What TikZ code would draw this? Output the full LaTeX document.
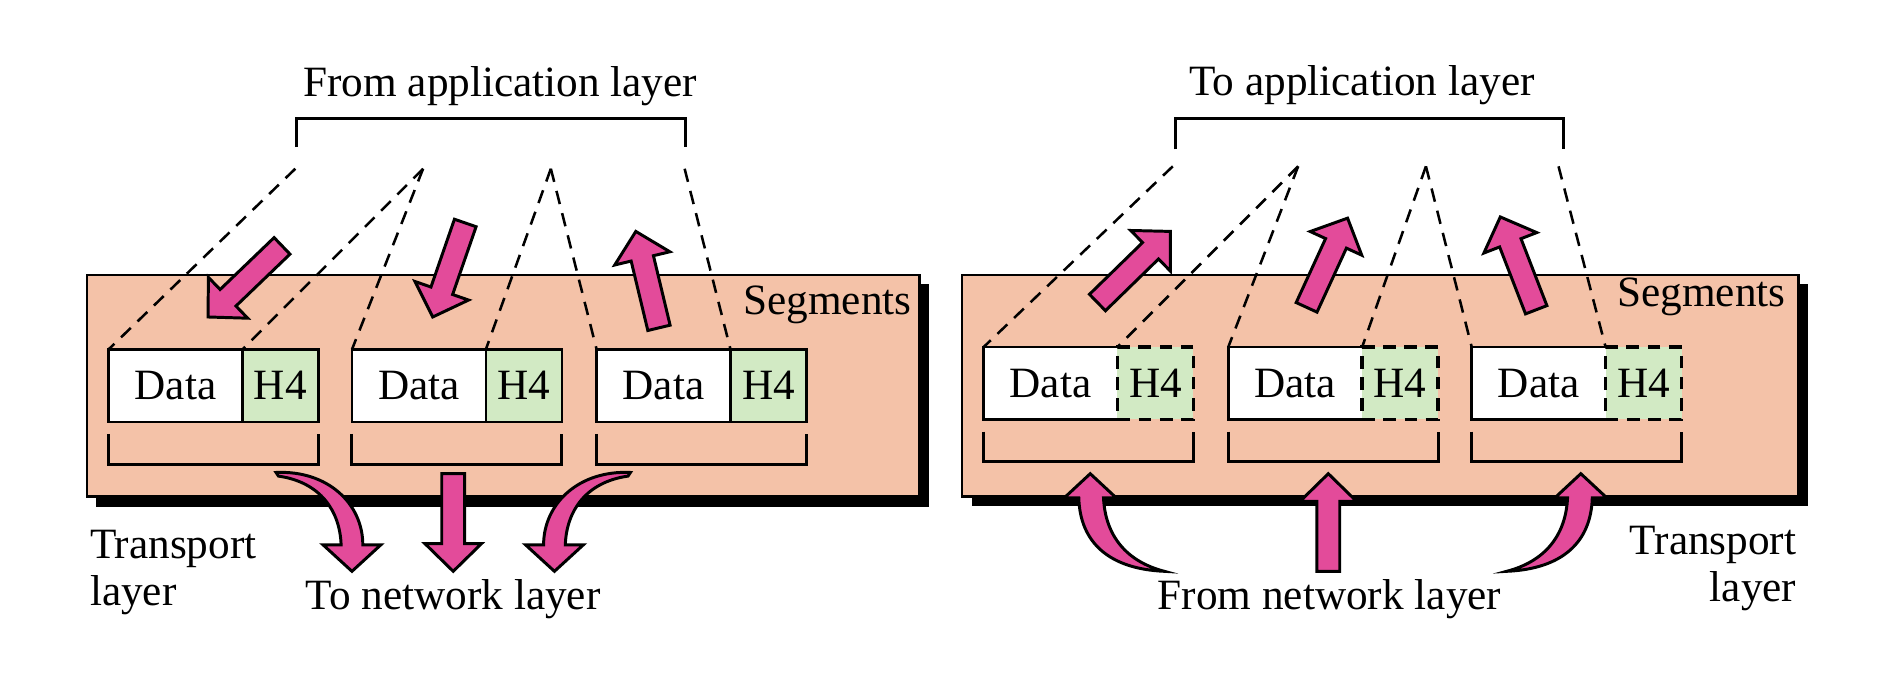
\documentclass[tikz,border=0pt]{standalone}
\usepackage{fontspec}
\setmainfont{Liberation Serif}
\usetikzlibrary{calc,positioning}
\definecolor{segfill}{RGB}{244,194,168}
\definecolor{hdrfill}{RGB}{210,234,196}
\definecolor{arrowfill}{RGB}{227,75,154}

\begin{document}
\begin{tikzpicture}[x=0.01cm, y=-0.01cm, font=\fontsize{10.2}{11.1}\selectfont]
		\tikzstyle {layer box} = [draw=black, line width=0.6pt, fill=segfill]
		\tikzstyle {data cell} = [draw, line width=0.6pt, fill=white, minimum width=1.11cm, minimum height=0.6cm, inner sep=0pt, outer sep=0pt]
		\tikzstyle {open cell} = [fill=white, minimum width=1.11cm, minimum height=0.6cm, inner sep=0pt, outer sep=0pt]
		\tikzstyle {header cell} = [draw, line width=0.6pt, fill=hdrfill, minimum width=0.63cm, minimum height=0.6cm, inner sep=0pt, outer sep=0pt]
		\tikzstyle {split line} = [dash pattern=on 3.2pt off 2.2pt, line width=0.6pt]
		\tikzstyle {seg bracket} = [line width=0.7pt]
		\tikzstyle {big arrow} = [draw=black, line width=0.7pt, fill=arrowfill]
		\tikzstyle {label text} = [inner sep=0pt]

		\useasboundingbox (0,0) rectangle (1568,559);

		% sending side
		\fill (80,236) rectangle (771,421);
		\draw[layer box] (72,228) rectangle (763,412);
		\draw[seg bracket] (246,122) -- (246,98) -- (569,98) -- (569,122);

		\coordinate (sp1) at (245,140);
		\coordinate (sp2) at (351,140);
		\coordinate (sp3) at (457,140);
		\coordinate (sp4) at (568,140);

		\node[data cell, anchor=west] (d1) at (90,320) {Data};
		\node[header cell, right=0pt of d1] (h1) {H4};
		\node[data cell, anchor=west] (d2) at (292,320) {Data};
		\node[header cell, right=0pt of d2] (h2) {H4};
		\node[data cell, anchor=west] (d3) at (495,320) {Data};
		\node[header cell, right=0pt of d3] (h3) {H4};

		\draw[split line] (sp1) -- (d1.north west);
		\draw[split line] (sp2) -- (d1.north east);
		\draw[split line] (sp2) -- (d2.north west);
		\draw[split line] (sp3) -- (d2.north east);
		\draw[split line] (sp3) -- (d3.north west);
		\draw[split line] (sp4) -- (d3.north east);

		% receiving side
		\fill (806,236) rectangle (1500,420);
		\draw[layer box] (798,228) rectangle (1492,412);
		\draw[seg bracket] (975,124) -- (975,98) -- (1297,98) -- (1297,124);

		\coordinate (rp1) at (973,138);
		\coordinate (rp2) at (1077,138);
		\coordinate (rp3) at (1183,138);
		\coordinate (rp4) at (1293,138);

		\node[open cell, anchor=west] (d4) at (816,318) {Data};
		\node[open cell, anchor=west] (d5) at (1019,318) {Data};
		\node[open cell, anchor=west] (d6) at (1221,318) {Data};
		\foreach \d in {d4,d5,d6}
			\draw[line width=0.6pt] (\d.north east) -- (\d.north west) -- (\d.south west) -- (\d.south east);
		\node[header cell, dash pattern=on 3pt off 2pt, line width=0.8pt, right=0pt of d4] (h4) {H4};
		\node[header cell, dash pattern=on 3pt off 2pt, line width=0.8pt, right=0pt of d5] (h5) {H4};
		\node[header cell, dash pattern=on 3pt off 2pt, line width=0.8pt, right=0pt of d6] (h6) {H4};

		\draw[split line] (rp1) -- (d4.north west);
		\draw[split line] (rp2) -- (d4.north east);
		\draw[split line] (rp2) -- (d5.north west);
		\draw[split line] (rp3) -- (d5.north east);
		\draw[split line] (rp3) -- (d6.north west);
		\draw[split line] (rp4) -- (d6.north east);

		% brackets under the segments
		\foreach \d/\h in {d1/h1,d2/h2,d3/h3,d4/h4,d5/h5,d6/h6}
			\draw[seg bracket] ($(\d.south west)+(0,10)$) -- ++(0,25) -| ($(\h.south east)+(0,10)$);

		% straight arrows
		\coordinate (sa1t) at (234,204);    \coordinate (sa1h) at (172.6,263);
		\coordinate (sa2t) at (386,185);    \coordinate (sa2h) at (359,263);
		\coordinate (sa3t) at (546.7,272);  \coordinate (sa3h) at (527.5,192);
		\coordinate (ra1t) at (910.5,251);  \coordinate (ra1h) at (971,192);
		\coordinate (ra2t) at (1084,255);   \coordinate (ra2h) at (1118,181);
		\coordinate (ra3t) at (1274.5,257); \coordinate (ra3h) at (1244.7,180);
		\coordinate (sn2t) at (376,393);    \coordinate (sn2h) at (376,474);
		\coordinate (rn2t) at (1102,474);   \coordinate (rn2h) at (1102,393);

		\foreach \a in {sa1,sa2,sa3,ra1,ra2,ra3,sn2,rn2} {
			\coordinate (\a b) at ($(\a h)!0.23cm!(\a t)$);
			\draw[big arrow] ($(\a t)!0.095cm!90:(\a h)$) -- ($(\a b)!0.095cm!90:(\a h)$)
				-- ($(\a b)!0.235cm!90:(\a h)$) -- (\a h) -- ($(\a b)!0.235cm!-90:(\a h)$)
				-- ($(\a b)!0.095cm!-90:(\a h)$) -- ($(\a t)!0.095cm!-90:(\a h)$) -- cycle;
		}

		% curved arrows
		\draw[big arrow] (229,392) .. controls (272,390) and (301,418) .. (301,452) -- (316,452) -- (292,474)
			-- (268,452) -- (283,452) .. controls (282,424) and (266,400) .. (231,395) -- cycle;
		\draw[big arrow] (523,392) .. controls (480,390) and (451,418) .. (451,452) -- (436,452) -- (460,474)
			-- (484,452) -- (469,452) .. controls (470,424) and (486,400) .. (521,395) -- cycle;
		\draw[big arrow] (883,413) -- (904.5,393) -- (926,413) -- (915.5,413) .. controls (917,445) and (935,466) .. (966,474)
			.. controls (920,472) and (896,450) .. (895,413) -- cycle;
		\draw[big arrow] (1333,413) -- (1311.5,393) -- (1290,413) -- (1300.5,413) .. controls (1299,445) and (1281,466) .. (1250,474)
			.. controls (1296,472) and (1320,450) .. (1321,413) -- cycle;

		% labels
		\node[label text, anchor=base] (fromapp) at (415,80) {From application layer};
		\node[label text, anchor=base] (toapp) at (1130,79) {To application layer};
		\node[label text, anchor=base east] (segl) at (757,261) {Segments};
		\node[label text, anchor=base east] (segr) at (1482,254) {Segments};
		\node[label text, anchor=base west, align=left] (transl) at (74,502) {Transport\\layer};
		\node[label text, anchor=base east, align=right] (transr) at (1491,499) {Transport\\layer};
		\node[label text, anchor=base] (tonet) at (376,506) {To network layer};
		\node[label text, anchor=base] (fromnet) at (1103,506) {From network layer};
	\end{tikzpicture}
\end{document}
